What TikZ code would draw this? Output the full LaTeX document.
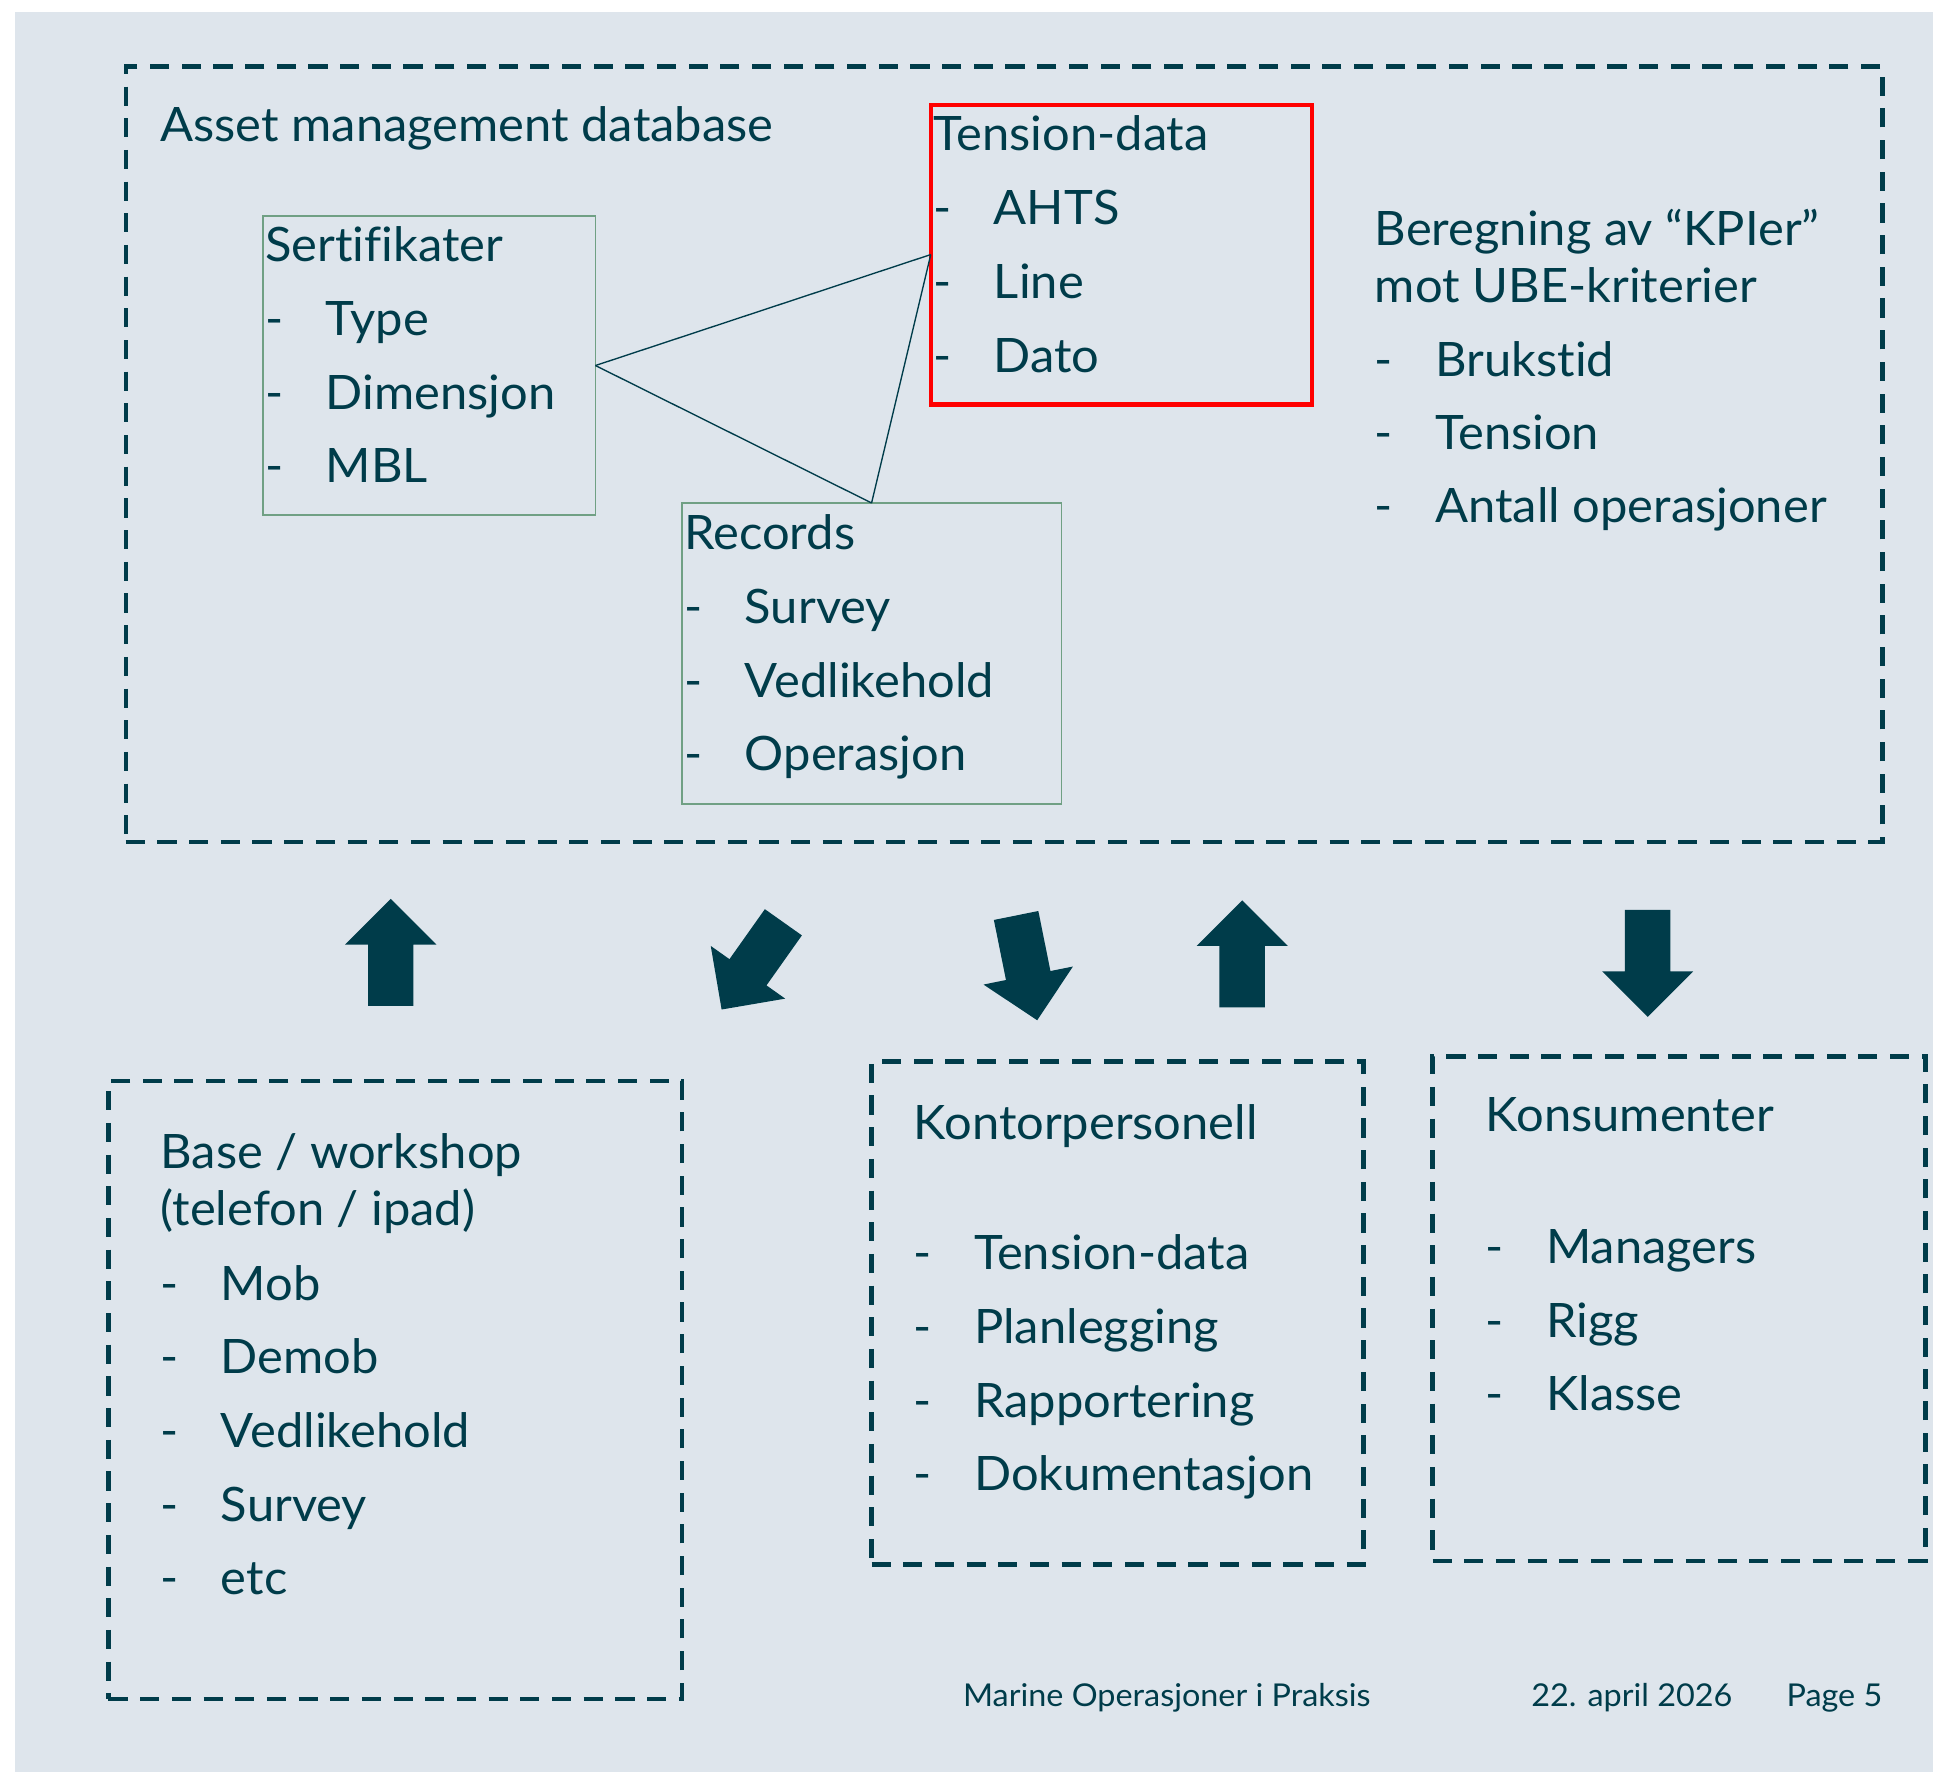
\documentclass[tikz,border=0pt]{standalone}
\usepackage{fontspec}
\setmainfont{Lato}[Ligatures=CommonOff, FakeStretch=1.03]
\definecolor{eqd}{RGB}{0,60,74}
\definecolor{bgc}{RGB}{222,229,236}
\definecolor{gbor}{RGB}{112,160,132}
\newcommand\blockarrowshape{(-18.4,-43.35) -- (18.4,-43.35) -- (18.4,6.35) -- (37,6.35) -- (0,43.35) -- (-37,6.35) -- (-18.4,6.35) -- cycle}
\newcommand\lineitem[4]{\node[txt] (#1) at (#2,#3) {\makebox[49pt][l]{-}#4};}
\begin{document}
\begin{tikzpicture}[x=1pt,y=-1pt,
  txt/.style={inner sep=0pt, anchor=base west, text=eqd, font=\fontsize{38.5}{46}\selectfont},
  foot/.style={inner sep=0pt, anchor=base west, text=eqd, font=\fontsize{25.5}{30}\selectfont},
  dbox/.style={draw=eqd, line width=3.5pt, dash pattern=on 15.5pt off 10.2pt, inner sep=0pt, outer sep=0pt},
  gbox/.style={draw=gbor, line width=1.5pt, inner sep=0pt, outer sep=0pt},
  rbox/.style={draw=red, line width=3.5pt, inner sep=0pt, outer sep=0pt},
  conn/.style={draw=eqd, line width=1.1pt},
  barrow/.style={fill=eqd}]
\useasboundingbox (0,0) rectangle (1568,1437.4);
\fill[white] (0,0) rectangle (1568,1437.4);
\fill[bgc] (12.4,10.1) rectangle (1568,1437.4);

% outer dashed box
\node[dbox, minimum width=1425pt, minimum height=629pt] (db) at (814.5,368.5) {};
\node[txt] (dbt) at (130,115) {Asset management database};

% Sertifikater
\node[gbox, minimum width=270pt, minimum height=243pt] (sert) at (348,296.5) {};
\node[txt] (sertt) at (215,212) {Sertifikater};
\lineitem{s1}{215}{272}{Type}
\lineitem{s2}{215}{332}{Dimensjon}
\lineitem{s3}{215}{391}{MBL}

% Tension-data
\node[rbox, minimum width=309pt, minimum height=243pt] (tens) at (909.5,206.5) {};
\node[txt] (tenst) at (757,122) {Tension-data};
\lineitem{t1}{757}{182}{AHTS}
\lineitem{t2}{757}{242}{Line}
\lineitem{t3}{757}{302}{Dato}

% Records
\node[gbox, minimum width=308pt, minimum height=244pt] (rec) at (707,530) {};
\node[txt] (rect) at (555,446) {Records};
\lineitem{r1}{555}{506}{Survey}
\lineitem{r2}{555}{566}{Vedlikehold}
\lineitem{r3}{555}{625}{Operasjon}

% connectors
\draw[conn] (sert.east) -- (tens.west);
\draw[conn] (sert.east) -- (rec.north);
\draw[conn] (tens.west) -- (rec.north);

% Beregning
\node[txt] (ber1) at (1115,199) {Beregning av “KPIer”};
\node[txt] (ber2) at (1115,245) {mot UBE-kriterier};
\lineitem{b1}{1115}{305}{Brukstid}
\lineitem{b2}{1115}{365}{Tension}
\lineitem{b3}{1115}{424}{Antall operasjoner}

% block arrows
\begin{scope}[shift={(317,772.5)}, rotate=180] \fill[barrow] \blockarrowshape; \end{scope}
\begin{scope}[shift={(610.4,783.5)}, rotate=-35.3] \fill[barrow] \blockarrowshape; \end{scope}
\begin{scope}[shift={(832.8,785.1)}, rotate=11.4] \fill[barrow] \blockarrowshape; \end{scope}
\begin{scope}[shift={(1007.6,773.7)}, rotate=180] \fill[barrow] \blockarrowshape; \end{scope}
\begin{scope}[shift={(1336.5,781.5)}] \fill[barrow] \blockarrowshape; \end{scope}

% Base / workshop
\node[dbox, minimum width=465pt, minimum height=501pt] (base) at (320.5,1127.5) {};
\node[txt] (baset) at (130,948) {Base / workshop};
\node[txt] (bases) at (130,994) {(telefon / ipad)};
\lineitem{w1}{130}{1055}{Mob}
\lineitem{w2}{130}{1114}{Demob}
\lineitem{w3}{130}{1174}{Vedlikehold}
\lineitem{w4}{130}{1234}{Survey}
\lineitem{w5}{130}{1293}{etc}

% Kontorpersonell
\node[dbox, minimum width=399pt, minimum height=408pt] (kont) at (906.5,1065) {};
\node[txt] (kontt) at (741,924) {Kontorpersonell};
\lineitem{k1}{741}{1030}{Tension-data}
\lineitem{k2}{741}{1090}{Planlegging}
\lineitem{k3}{741}{1150}{Rapportering}
\lineitem{k4}{741}{1209}{Dokumentasjon}

% Konsumenter
\node[dbox, minimum width=400pt, minimum height=409pt] (kons) at (1362,1061.5) {};
\node[txt] (konst) at (1205,918) {Konsumenter};
\lineitem{c1}{1205}{1025}{Managers}
\lineitem{c2}{1205}{1085}{Rigg}
\lineitem{c3}{1205}{1144}{Klasse}

% footer
\node[foot] (f1) at (781,1384) {Marine Operasjoner i Praksis};
\node[foot] (f2) at (1242,1384) {22. april 2026};
\node[foot] (f3) at (1449,1384) {Page 5};
\end{tikzpicture}
\end{document}
